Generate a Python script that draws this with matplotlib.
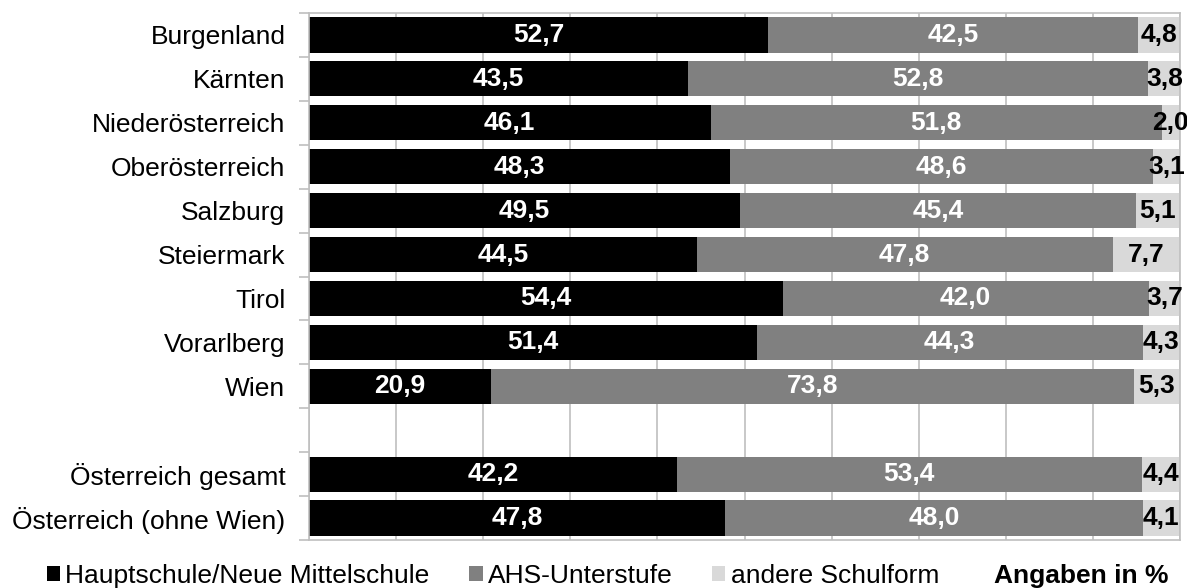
import matplotlib.pyplot as plt
import numpy as np
from matplotlib.patches import Patch

# data
regions = ["Burgenland", "Kärnten", "Niederösterreich", "Oberösterreich",
           "Salzburg", "Steiermark", "Tirol", "Vorarlberg", "Wien",
           "", "Österreich gesamt", "Österreich (ohne Wien)"]
hauptschule = [52.7, 43.5, 46.1, 48.3, 49.5, 44.5, 54.4, 51.4, 20.9, None, 42.2, 47.8]
ahs = [42.5, 52.8, 51.8, 48.6, 45.4, 47.8, 42.0, 44.3, 73.8, None, 53.4, 48.0]
andere = [4.8, 3.8, 2.0, 3.1, 5.1, 7.7, 3.7, 4.3, 5.3, None, 4.4, 4.1]
series_names = ["Hauptschule/Neue Mittelschule", "AHS-Unterstufe", "andere Schulform"]
colors = ["#000000", "#808080", "#D9D9D9"]
text_colors = ["white", "white", "black"]

plt.rcParams['font.family'] = ['Liberation Sans', 'DejaVu Sans']
fs = 19

fig = plt.figure(figsize=(11.87, 5.88), dpi=100)
ax = fig.add_axes([309 / 1187, 1 - 540 / 588, 871 / 1187, 527 / 588])

grid_col = "#BFBFBF"
all_series = [hauptschule, ahs, andere]
for idx, vals in enumerate(all_series):
    for i, v in enumerate(vals):
        if v is None:
            continue
        left = sum(s[i] for s in all_series[:idx])
        ax.barh(i, v, left=left, height=0.8, color=colors[idx], zorder=2)
        ax.text(left + v / 2, i, f"{v:.1f}".replace(".", ","), ha="center", va="center",
                color=text_colors[idx], fontsize=fs, fontweight="bold", zorder=3)

ax.set_xlim(0, 100)
ax.set_ylim(len(regions) - 0.5, -0.5)
ax.set_xticks(np.arange(0, 101, 10))
ax.xaxis.grid(True, color=grid_col, lw=1.2, zorder=0)
ax.tick_params(axis="x", length=0, labelbottom=False)
ax.set_yticks(range(len(regions)))
ax.set_yticklabels(regions, fontsize=fs)
ax.set_yticks(np.arange(-0.5, len(regions), 1), minor=True)
ax.tick_params(axis="y", which="major", length=0, pad=17)
ax.tick_params(axis="y", which="minor", length=7, color=grid_col, width=1.2)
for sp in ax.spines.values():
    sp.set_color(grid_col)
    sp.set_linewidth(1.2)

handles = [Patch(facecolor=c, edgecolor="none") for c in colors]
fig.legend(handles, series_names, loc="center left", bbox_to_anchor=(47 / 1187, 1 - 576 / 588),
           ncol=3, frameon=False, fontsize=fs, handlelength=0.5, handleheight=0.5,
           handletextpad=0.2, columnspacing=1.5, borderpad=0, borderaxespad=0)
fig.text(1168 / 1187, 1 - 576 / 588, "Angaben in %", ha="right", va="center",
         fontsize=fs, fontweight="bold")

plt.savefig("out.png", dpi=100)
